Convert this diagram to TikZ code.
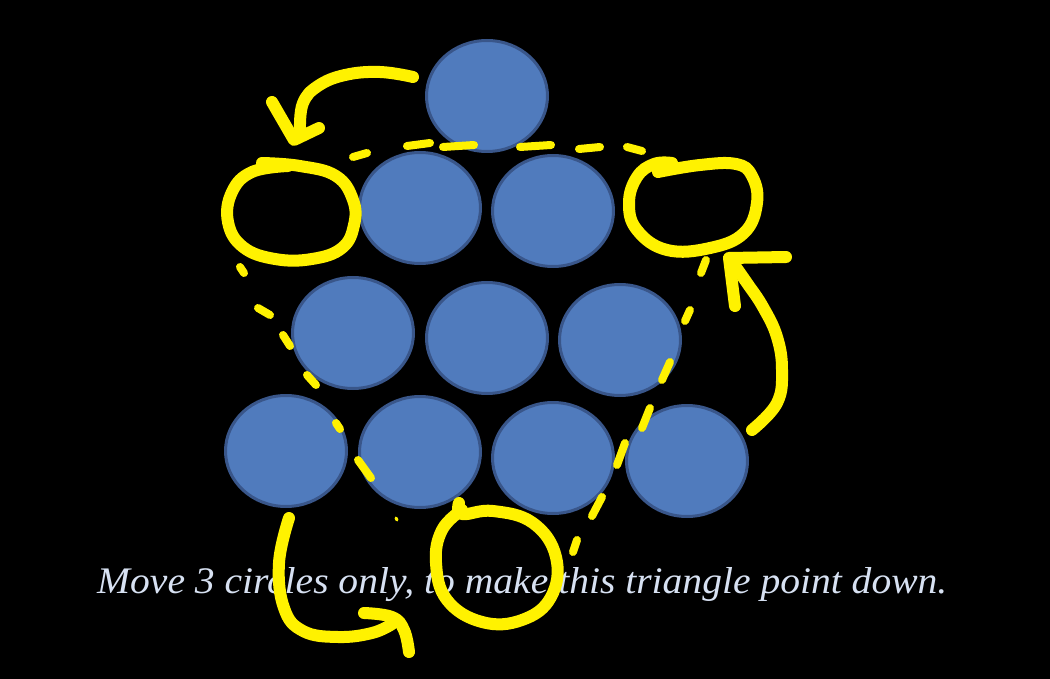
\documentclass[tikz,border=0pt]{standalone}
\usepackage{fontspec}
\setmainfont{Liberation Serif}
\usetikzlibrary{shapes.geometric}
\definecolor{diskblue}{RGB}{80,123,189}
\definecolor{diskedge}{RGB}{57,86,138}
\definecolor{pen}{RGB}{255,242,0}
\definecolor{caption}{RGB}{215,225,242}
\tikzset{
	disk/.style={ellipse,draw=diskedge,fill=diskblue,line width=3pt,minimum width=121pt,minimum height=111pt,inner sep=0pt},
	marker/.style={draw=pen,line width=12pt,line cap=round,line join=round},
	dashmark/.style={draw=pen,line width=8pt,line cap=round}
}
\begin{document}
\begin{tikzpicture}[x=1pt,y=-1pt]
		\fill[black] (0,0) rectangle (1050,679);
		\useasboundingbox (0,0) rectangle (1050,679);
		\node[disk] (d1) at (487,96) {};
		\node[disk] (d2) at (420,208) {};
		\node[disk] (d3) at (553,211) {};
		\node[disk] (d4) at (353,333) {};
		\node[disk] (d5) at (487,338) {};
		\node[disk] (d6) at (620,340) {};
		\node[disk] (d7) at (286,451) {};
		\node[disk] (d8) at (420,452) {};
		\node[disk] (d9) at (553,458) {};
		\node[disk] (d10) at (687,461) {};
		\node[anchor=base west,inner sep=0pt,text=caption,font=\fontsize{37.5}{40}\selectfont\itshape] (note) at (97,593) {\scalebox{1.055}[1]{Move 3 circles only, to make this triangle point down.}};
		\foreach \xa/\ya/\xb/\yb in {353/157/367/153,407/146/430/143,443/147/474/145,520/147/551/145,579/149/600/147,627/147/642/151,
			240/267/244/273,258/308/270/315,283/335/290/346,307/375/316/385,336/423/340/429,358/460/371/478,
			706/260/701/273,690/310/685/321,670/362/662/380,650/408/642/428,625/443/617/465,602/497/592/516,577/540/573/552}
			\draw[dashmark] (\xa,\ya) -- (\xb,\yb);
		\draw[pen,line width=3pt,line cap=round] (396,518) -- (397,520);
		\draw[marker] plot[smooth,tension=0.7] coordinates {(262,163) (300,166) (336,176) (353,200) (354,225) (342,248) (312,259) (275,259) (243,247) (228,222) (232,192) (252,172) (288,166)};
		\draw[marker] plot[smooth,tension=0.7] coordinates {(658,172) (700,165) (736,164) (752,176) (757,203) (744,233) (710,248) (667,250) (637,230) (629,203) (637,177) (654,164) (672,163)};
		\draw[marker] plot[smooth,tension=0.7] coordinates {(459,503) (462,514) (493,511) (533,523) (556,557) (551,597) (522,620) (482,622) (447,600) (436,563) (442,530) (462,510)};
		\draw[marker] plot[smooth,tension=0.7] coordinates {(413,77) (380,72) (345,75) (318,86) (303,103) (300,128)};
		\draw[marker] (272,102) -- (294,140) -- (319,128);
		\draw[marker] plot[smooth,tension=0.7] coordinates {(752,430) (777,403) (782,370) (777,337) (763,307) (747,283) (733,263)};
		\draw[marker] (735,306) -- (729,258) -- (786,257);
		\draw[marker] plot[smooth,tension=0.7] coordinates {(289,518) (279,563) (284,608) (303,631) (338,637) (372,633) (392,624)};
		\draw[marker] plot[smooth,tension=0.7] coordinates {(364,613) (392,617) (404,630) (409,652)};
	\end{tikzpicture}
\end{document}
